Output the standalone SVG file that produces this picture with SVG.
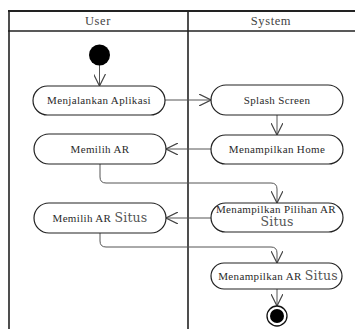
<svg xmlns="http://www.w3.org/2000/svg" width="355" height="329" viewBox="0 0 355 329">
<style>
.frame{stroke:#222;fill:none}
.act{fill:#fff;stroke:#222;stroke-width:1.2}
.lbl{font-family:"Liberation Serif","Times New Roman",serif;font-size:11px;fill:#2a2a2a;text-anchor:middle;letter-spacing:0.35px}
.big{font-family:"DejaVu Serif",serif;font-size:12.5px;fill:#555;letter-spacing:0.2px}
.hdr{font-family:"Liberation Serif","Times New Roman",serif;font-size:12.5px;fill:#444;text-anchor:middle;letter-spacing:0.6px}
.con{stroke:#555;stroke-width:1;fill:none;marker-end:url(#arr)}
</style>
<defs>
<marker id="arr" markerWidth="12" markerHeight="12" refX="10" refY="5" orient="auto" markerUnits="userSpaceOnUse" viewBox="0 0 10 10">
<path d="M0,0 L10,5 L0,10" fill="none" stroke="#444" stroke-width="1"/>
</marker>
</defs>
<rect width="355" height="329" fill="#fff"/>
<g id="swimlanes">
<line class="frame" x1="8" y1="11" x2="355" y2="11" stroke-width="2"/>
<line class="frame" x1="8" y1="31" x2="355" y2="31" stroke-width="1.6"/>
<line class="frame" x1="9" y1="10" x2="9" y2="329" stroke-width="1.6"/>
<line class="frame" x1="188" y1="11" x2="188" y2="329" stroke-width="1.6"/>
<text class="hdr" x="98" y="25">User</text>
<text class="hdr" x="271" y="25">System</text>
</g>
<g id="connectors">
<line class="con" x1="99.5" y1="65" x2="99.5" y2="86"/>
<line class="con" x1="165" y1="100" x2="211" y2="100"/>
<line class="con" x1="277" y1="115" x2="277" y2="135"/>
<line class="con" x1="211" y1="149" x2="166" y2="149"/>
<path class="con" d="M100,164 V177 Q100,183 106,183 H271 Q277,183 277,189 V203"/>
<line class="con" x1="211" y1="218" x2="166" y2="218"/>
<path class="con" d="M100,233 V241 Q100,247 106,247 H271 Q277,247 277,253 V263"/>
<line class="con" x1="277" y1="289" x2="277" y2="306"/>
</g>
<g id="start"><circle cx="99.5" cy="55" r="10.5" fill="#000"/></g>
<g id="n1"><rect class="act" x="33" y="86" width="132" height="29" rx="14.5"/><text class="lbl" x="99" y="104">Menjalankan Aplikasi</text></g>
<g id="n2"><rect class="act" x="211" y="85" width="132" height="30" rx="15"/><text class="lbl" x="277" y="103.5">Splash Screen</text></g>
<g id="n3"><rect class="act" x="211" y="135" width="132" height="29" rx="14.5"/><text class="lbl" x="277" y="153">Menampilkan Home</text></g>
<g id="n4"><rect class="act" x="34" y="134" width="132" height="30" rx="15"/><text class="lbl" x="100" y="152.5">Memilih AR</text></g>
<g id="n5"><rect class="act" x="211" y="203" width="132" height="29" rx="14.5"/><text class="lbl" x="276" y="213" letter-spacing="0.5">Menampilkan Pilihan AR</text><text class="big" x="277" y="226" text-anchor="middle">Situs</text></g>
<g id="n6"><rect class="act" x="34" y="203" width="132" height="30" rx="15"/><text class="lbl" x="100" y="222">Memilih AR <tspan class="big">Situs</tspan></text></g>
<g id="n7"><rect class="act" x="211" y="263" width="131" height="26" rx="13"/><text class="lbl" x="278" y="280">Menampilkan AR <tspan class="big">Situs</tspan></text></g>
<g id="end"><circle cx="277" cy="316" r="10" fill="#fff" stroke="#111" stroke-width="1.3"/><circle cx="277" cy="316" r="7" fill="#000"/></g>
</svg>
